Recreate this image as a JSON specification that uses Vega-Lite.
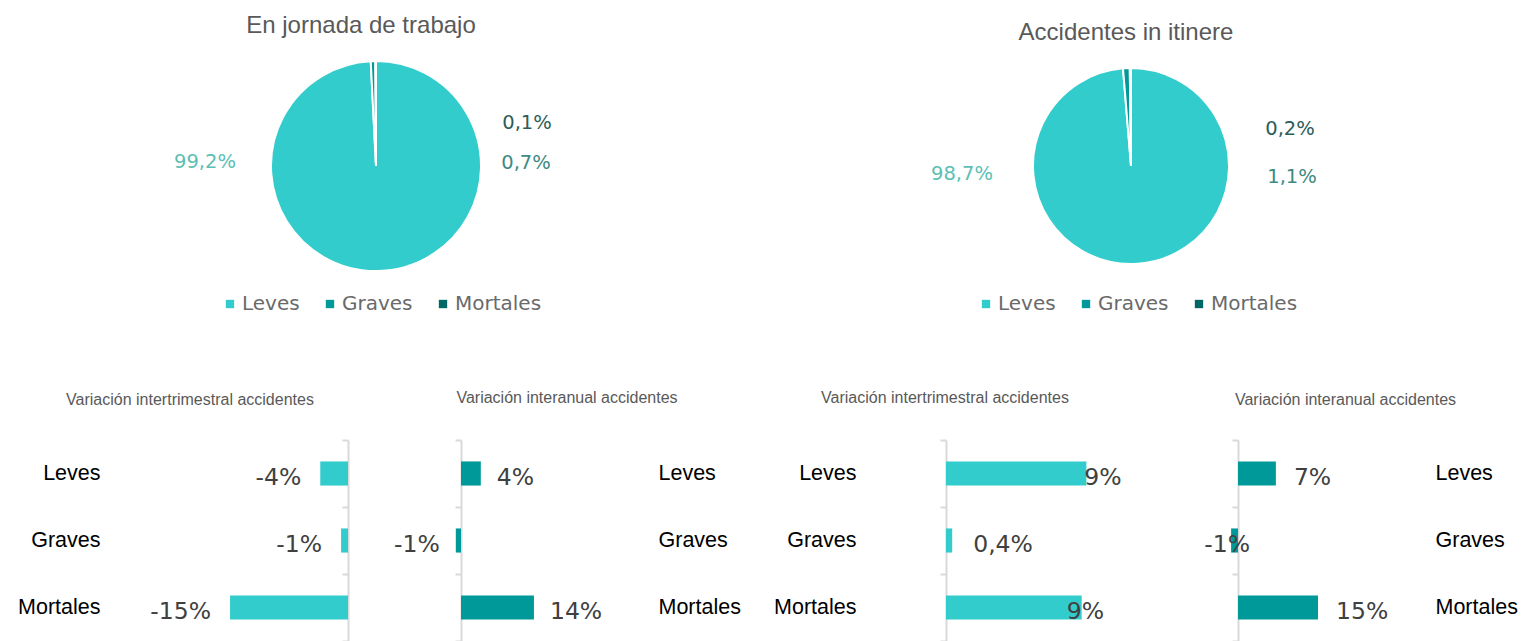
{
  "$schema": "https://vega.github.io/schema/vega-lite/v6.json",
  "padding": 0,
  "background": "white",
  "config": {
    "view": {"stroke": null},
    "font": "Liberation Sans",
    "title": {"font": "Liberation Sans", "fontWeight": "normal", "color": "#595959", "anchor": "middle", "frame": "group"},
    "axis": {"domainColor": "#d9d9d9", "domainWidth": 2, "tickColor": "#d9d9d9", "tickWidth": 2, "tickSize": 6, "tickBand": "extent", "labelFont": "Liberation Sans", "labelFontSize": 21.5, "labelColor": "#000000", "grid": false}
  },
  "datasets": {
    "pie1": [
      {"cat": "Leves", "value": 99.2, "label": "99,2%"},
      {"cat": "Graves", "value": 0.7, "label": "0,7%"},
      {"cat": "Mortales", "value": 0.1, "label": "0,1%"}
    ],
    "pie2": [
      {"cat": "Leves", "value": 98.7, "label": "98,7%"},
      {"cat": "Graves", "value": 1.1, "label": "1,1%"},
      {"cat": "Mortales", "value": 0.2, "label": "0,2%"}
    ],
    "barA": [
      {"cat": "Leves", "value": -3.6, "label": "-4%"},
      {"cat": "Graves", "value": -0.9, "label": "-1%"},
      {"cat": "Mortales", "value": -15.3, "label": "-15%"}
    ],
    "barB": [
      {"cat": "Leves", "value": 3.8, "label": "4%"},
      {"cat": "Graves", "value": -1.0, "label": "-1%"},
      {"cat": "Mortales", "value": 14.0, "label": "14%"}
    ],
    "barC": [
      {"cat": "Leves", "value": 9.0, "label": "9%"},
      {"cat": "Graves", "value": 0.4, "label": "0,4%"},
      {"cat": "Mortales", "value": 8.7, "label": "9%"}
    ],
    "barD": [
      {"cat": "Leves", "value": 7.1, "label": "7%"},
      {"cat": "Graves", "value": -1.3, "label": "-1%"},
      {"cat": "Mortales", "value": 15.0, "label": "15%"}
    ]
  },
  "spacing": 58,
  "resolve": {"scale": {"color": "independent"}},
  "vconcat": [
    {
      "spacing": 0,
      "bounds": "flush",
      "resolve": {"scale": {"color": "independent"}},
      "hconcat": [
        {
          "width": 752, "height": 332,
          "data": {"name": "pie1"},
          "title": {"text": "En jornada de trabajo", "fontSize": 24, "offset": -38, "dx": -15},
          "layer": [
            {
              "mark": {"type": "arc", "outerRadius": 105, "stroke": "white", "strokeWidth": 2},
              "encoding": {
                "theta": {"field": "value", "type": "quantitative", "stack": true},
                "order": {"field": "value", "sort": "descending"},
                "color": {"field": "cat", "type": "nominal",
                  "scale": {"domain": ["Leves", "Graves", "Mortales"], "range": ["#33CCCC", "#009999", "#006666"]},
                  "legend": {"orient": "none", "legendX": 220, "legendY": 294, "direction": "horizontal", "title": null, "symbolType": "square", "symbolSize": 70, "symbolStrokeWidth": 0, "labelFontSize": 20, "labelFont": "DejaVu Sans", "labelColor": "#6a6a6a", "columnPadding": 20, "labelOffset": 2}
                }
              }
            },
            {"transform": [{"filter": "datum.cat === 'Leves'"}], "mark": {"type": "text", "dx": -171, "dy": -4, "color": "#5BBFB5", "font": "DejaVu Sans", "fontSize": 19.5}, "encoding": {"text": {"field": "label"}}},
            {"transform": [{"filter": "datum.cat === 'Graves'"}], "mark": {"type": "text", "dx": 150, "dy": -3, "color": "#3E8A82", "font": "DejaVu Sans", "fontSize": 19.5}, "encoding": {"text": {"field": "label"}}},
            {"transform": [{"filter": "datum.cat === 'Mortales'"}], "mark": {"type": "text", "dx": 151, "dy": -43, "color": "#2B5E59", "font": "DejaVu Sans", "fontSize": 19.5}, "encoding": {"text": {"field": "label"}}}
          ]
        },
        {
          "width": 758, "height": 332,
          "data": {"name": "pie2"},
          "title": {"text": "Accidentes in itinere", "fontSize": 24, "offset": -45, "dx": -5},
          "layer": [
            {
              "mark": {"type": "arc", "outerRadius": 98, "stroke": "white", "strokeWidth": 2},
              "encoding": {
                "theta": {"field": "value", "type": "quantitative", "stack": true},
                "order": {"field": "value", "sort": "descending"},
                "color": {"field": "cat", "type": "nominal",
                  "scale": {"domain": ["Leves", "Graves", "Mortales"], "range": ["#33CCCC", "#009999", "#006666"]},
                  "legend": {"orient": "none", "legendX": 224, "legendY": 294, "direction": "horizontal", "title": null, "symbolType": "square", "symbolSize": 70, "symbolStrokeWidth": 0, "labelFontSize": 20, "labelFont": "DejaVu Sans", "labelColor": "#6a6a6a", "columnPadding": 20, "labelOffset": 2}
                }
              }
            },
            {"transform": [{"filter": "datum.cat === 'Leves'"}], "mark": {"type": "text", "dx": -169, "dy": 8, "color": "#5BBFB5", "font": "DejaVu Sans", "fontSize": 19.5}, "encoding": {"text": {"field": "label"}}},
            {"transform": [{"filter": "datum.cat === 'Graves'"}], "mark": {"type": "text", "dx": 161, "dy": 11, "color": "#3E8A82", "font": "DejaVu Sans", "fontSize": 19.5}, "encoding": {"text": {"field": "label"}}},
            {"transform": [{"filter": "datum.cat === 'Mortales'"}], "mark": {"type": "text", "dx": 159, "dy": -37, "color": "#2B5E59", "font": "DejaVu Sans", "fontSize": 19.5}, "encoding": {"text": {"field": "label"}}}
          ]
        }
      ]
    },
    {
      "spacing": 0,
      "bounds": "flush",
      "hconcat": [
        {
          "width": 380, "height": 201,
          "data": {"name": "barA"},
          "title": {"text": "Variación intertrimestral accidentes", "fontSize": 16, "offset": 21},
          "encoding": {
            "y": {"field": "cat", "type": "nominal", "sort": ["Leves", "Graves", "Mortales"], "scale": {"paddingInner": 0, "paddingOuter": 0},
              "axis": {"title": null, "orient": "left", "offset": -348, "labelPadding": 242, "labelAlign": "right"}},
            "x": {"field": "value", "type": "quantitative", "scale": {"domain": [-45.14, 4.15], "nice": false, "zero": false}, "axis": null}
          },
          "layer": [
            {"mark": {"type": "bar", "color": "#33CCCC", "height": {"band": 0.36}}, "encoding": {"x2": {"datum": 0}}},
            {"mark": {"type": "text", "align": "right", "baseline": "middle", "dx": -19, "dy": 4, "font": "DejaVu Sans", "fontSize": 23.5, "color": "#404040"}, "encoding": {"text": {"field": "label"}}}
          ]
        },
        {
          "width": 380, "height": 201,
          "data": {"name": "barB"},
          "title": {"text": "Variación interanual accidentes", "fontSize": 16, "offset": 23, "dx": -3},
          "encoding": {
            "y": {"field": "cat", "type": "nominal", "sort": ["Leves", "Graves", "Mortales"], "scale": {"paddingInner": 0, "paddingOuter": 0},
              "axis": {"title": null, "orient": "left", "offset": -81, "labelPadding": -203, "labelAlign": "left"}},
            "x": {"field": "value", "type": "quantitative", "scale": {"domain": [-15.55, 57.39], "nice": false, "zero": false}, "axis": null}
          },
          "layer": [
            {"mark": {"type": "bar", "color": "#009999", "height": {"band": 0.36}}, "encoding": {"x2": {"datum": 0}}},
            {"transform": [{"filter": "datum.value >= 0"}], "mark": {"type": "text", "align": "left", "baseline": "middle", "dx": 16, "dy": 4, "font": "DejaVu Sans", "fontSize": 23.5, "color": "#404040"}, "encoding": {"text": {"field": "label"}}},
            {"transform": [{"filter": "datum.value < 0"}], "mark": {"type": "text", "align": "right", "baseline": "middle", "dx": -16, "dy": 4, "font": "DejaVu Sans", "fontSize": 23.5, "color": "#404040"}, "encoding": {"text": {"field": "label"}}}
          ]
        },
        {
          "width": 400, "height": 201,
          "data": {"name": "barC"},
          "title": {"text": "Variación intertrimestral accidentes", "fontSize": 16, "offset": 23, "dx": -15},
          "encoding": {
            "y": {"field": "cat", "type": "nominal", "sort": ["Leves", "Graves", "Mortales"], "scale": {"paddingInner": 0, "paddingOuter": 0},
              "axis": {"title": null, "orient": "left", "offset": -186, "labelPadding": 84, "labelAlign": "right"}},
            "x": {"field": "value", "type": "quantitative", "scale": {"domain": [-11.92, 13.72], "nice": false, "zero": false}, "axis": null}
          },
          "layer": [
            {"mark": {"type": "bar", "color": "#33CCCC", "height": {"band": 0.36}}, "encoding": {"x2": {"datum": 0}}},
            {"transform": [{"filter": "datum.cat === 'Leves'"}], "mark": {"type": "text", "align": "left", "baseline": "middle", "dx": -2, "dy": 4, "font": "DejaVu Sans", "fontSize": 23.5, "color": "#404040"}, "encoding": {"text": {"field": "label"}}},
            {"transform": [{"filter": "datum.cat === 'Graves'"}], "mark": {"type": "text", "align": "left", "baseline": "middle", "dx": 21, "dy": 4, "font": "DejaVu Sans", "fontSize": 23.5, "color": "#404040"}, "encoding": {"text": {"field": "label"}}},
            {"transform": [{"filter": "datum.cat === 'Mortales'"}], "mark": {"type": "text", "align": "left", "baseline": "middle", "dx": -15, "dy": 4, "font": "DejaVu Sans", "fontSize": 23.5, "color": "#404040"}, "encoding": {"text": {"field": "label"}}}
          ]
        },
        {
          "width": 379, "height": 201,
          "data": {"name": "barD"},
          "title": {"text": "Variación interanual accidentes", "fontSize": 16, "offset": 21, "dx": -4},
          "encoding": {
            "y": {"field": "cat", "type": "nominal", "sort": ["Leves", "Graves", "Mortales"], "scale": {"paddingInner": 0, "paddingOuter": 0},
              "axis": {"title": null, "orient": "left", "offset": -78, "labelPadding": -203, "labelAlign": "left"}},
            "x": {"field": "value", "type": "quantitative", "scale": {"domain": [-14.63, 56.44], "nice": false, "zero": false}, "axis": null}
          },
          "layer": [
            {"mark": {"type": "bar", "color": "#009999", "height": {"band": 0.36}}, "encoding": {"x2": {"datum": 0}}},
            {"transform": [{"filter": "datum.value >= 0"}], "mark": {"type": "text", "align": "left", "baseline": "middle", "dx": 18, "dy": 4, "font": "DejaVu Sans", "fontSize": 23.5, "color": "#404040"}, "encoding": {"text": {"field": "label"}}},
            {"transform": [{"filter": "datum.value < 0"}], "mark": {"type": "text", "align": "right", "baseline": "middle", "dx": 19, "dy": 4, "font": "DejaVu Sans", "fontSize": 23.5, "color": "#404040"}, "encoding": {"text": {"field": "label"}}}
          ]
        }
      ]
    }
  ]
}
